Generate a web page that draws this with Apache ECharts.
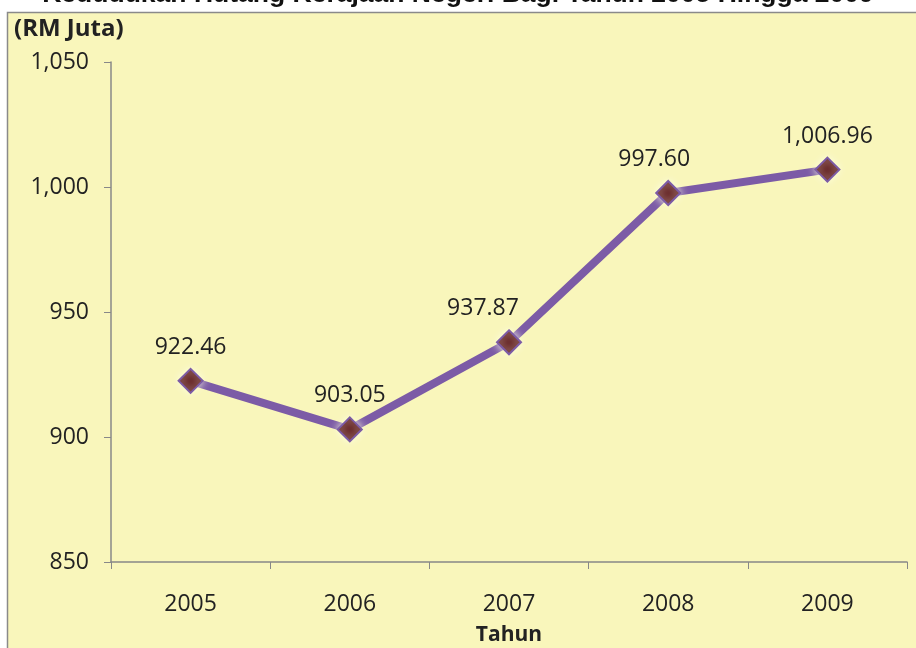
<!DOCTYPE html>
<html>
<head>
<meta charset="utf-8">
<script src="https://cdn.jsdelivr.net/npm/echarts@6/dist/echarts.min.js"></script>
<style>
  html, body { margin: 0; padding: 0; background: #fff; }
  #main { width: 916px; height: 648px; }
</style>
</head>
<body>
<div id="main"></div>
<script>
var years = ['2005', '2006', '2007', '2008', '2009'];
var hutang = [922.46, 903.05, 937.87, 997.60, 1006.96];
var yTicks = { min: 850, max: 1050, step: 50 };

function fmt(v, d) {
    return v.toLocaleString('en-US', { minimumFractionDigits: d, maximumFractionDigits: d });
}

var font = '"Open Sans", "Noto Sans", sans-serif';

// labels on the rising segment sit a little left of the point, as in the original
var points = hutang.map(function (v, i) {
    var item = { value: v };
    if (i === 2) item.label = { offset: [-26, 0] };
    if (i === 3) item.label = { offset: [-14, 0] };
    return item;
});

var option = {
    backgroundColor: '#ffffff',
    animation: false,
    graphic: [
        {
            type: 'rect',
            shape: { x: 7.5, y: 12.5, width: 920, height: 650 },
            style: { fill: '#F9F6BB', stroke: '#8a8a8a', lineWidth: 1.5 },
            z: -10
        },
        {
            type: 'text',
            left: 'center',
            top: -19,
            style: {
                text: 'Kedudukan Hutang Kerajaan Negeri Bagi Tahun 2005 Hingga 2009',
                font: 'bold 26.5px "Liberation Sans", Arial, sans-serif',
                fill: '#111'
            }
        },
        {
            type: 'text',
            left: 14,
            top: 17,
            style: {
                text: '(RM Juta)',
                font: 'bold 24px ' + font,
                fill: '#222'
            }
        }
    ],
    grid: { left: 111, right: 9, top: 62, bottom: 86, outerBoundsMode: 'none' },
    xAxis: {
        type: 'category',
        data: years,
        boundaryGap: true,
        name: 'Tahun',
        nameLocation: 'middle',
        nameGap: 63,
        nameTextStyle: { fontFamily: font, fontSize: 21, fontWeight: 'bold', color: '#222' },
        axisLine: { lineStyle: { color: '#888', width: 1.5 } },
        axisTick: { show: true, length: 7, lineStyle: { color: '#888' } },
        axisLabel: { margin: 31, fontFamily: font, fontSize: 23, color: '#222' },
        splitLine: { show: false }
    },
    yAxis: {
        type: 'value',
        min: yTicks.min,
        max: yTicks.max,
        interval: yTicks.step,
        axisLine: { show: true, lineStyle: { color: '#888', width: 1.5 } },
        axisTick: { show: true, length: 7, lineStyle: { color: '#888' } },
        axisLabel: {
            margin: 22,
            fontFamily: font,
            fontSize: 23,
            color: '#222',
            formatter: function (v) { return fmt(v, 0); }
        },
        splitLine: { show: false }
    },
    series: [
        {
            type: 'line',
            data: points,
            symbol: 'diamond',
            symbolSize: 24,
            lineStyle: { color: '#7C5BA6', width: 8 },
            itemStyle: {
                color: '#5E1A1E',
                borderColor: '#7C5BA6',
                borderWidth: 2,
                shadowColor: 'rgba(255,255,225,0.9)',
                shadowBlur: 8
            },
            label: {
                show: true,
                position: 'top',
                distance: 9,
                fontFamily: font,
                fontSize: 23,
                color: '#222',
                formatter: function (p) { return fmt(p.value, 2); }
            },
            z: 3
        }
    ]
};

var chart = echarts.init(document.getElementById('main'));
chart.setOption(option);
</script>
</body>
</html>
